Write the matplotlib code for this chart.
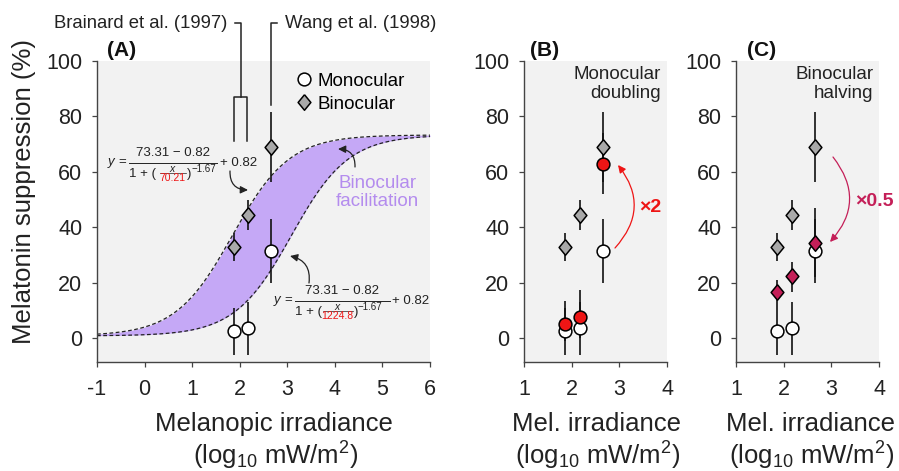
import numpy as np
import matplotlib
matplotlib.use('Agg')
import matplotlib.pyplot as plt
from matplotlib.lines import Line2D
from matplotlib.patches import FancyArrowPatch

plt.rcParams['font.family'] = ['Liberation Sans', 'DejaVu Sans']
plt.rcParams['mathtext.fontset'] = 'custom'
plt.rcParams['mathtext.rm'] = 'Liberation Sans'
plt.rcParams['mathtext.it'] = 'Liberation Sans:italic'
plt.rcParams['mathtext.bf'] = 'Liberation Sans:bold'
plt.rcParams['axes.unicode_minus'] = False

# data
dose = [1.87, 2.17, 2.66]                # log10 melanopic irradiance
mono = [2.5, 3.5, 31.5]
mono_lo = [-6, -6, 20]
mono_hi = [11, 13, 43]
bino = [33, 44.5, 69]
bino_lo = [28, 39, 56.5]
bino_hi = [38, 50, 81.5]
mono_x2 = [5, 7.5, 63]
mono_x2_lo = [-1, 0, 52]
mono_x2_hi = [13.5, 17.3, 74]
bino_half = [16.5, 22.3, 34.5]
bino_half_lo = [11, 16.7, 22]
bino_half_hi = [21, 27.6, 47]

# fitted sigmoids shown in panel A
fit_top = 73.31
fit_bot = 0.82
fit_slope = -1.67
ec50_bino = 70.21
ec50_mono = 1224.8

W, H = 899, 471
fig = plt.figure(figsize=(W / 100, H / 100), dpi=100)

def fpos(x, y):
    return x / W, 1 - y / H

bg = '#f2f2f2'
purple = '#c5a8f6'
purple_txt = '#b48cee'
gray = '#a9a9a9'
red = '#ee1515'
crimson = '#c41f58'
ink = '#222222'
diamond = [(0, 1), (0.82, 0), (0, -1), (-0.82, 0), (0, 1)]

ax_b = 1 - 361.7 / H
ax_h = 300.7 / H
axA = fig.add_axes([97 / W, ax_b, 333 / W, ax_h])
axB = fig.add_axes([524 / W, ax_b, 143 / W, ax_h])
axC = fig.add_axes([736 / W, ax_b, 143 / W, ax_h])

for ax in (axA, axB, axC):
    ax.set_facecolor(bg)
    ax.set_ylim(-8.5, 100)
    ax.set_yticks([0, 20, 40, 60, 80, 100])
    for s in ('top', 'right'):
        ax.spines[s].set_visible(False)
    for s in ('left', 'bottom'):
        ax.spines[s].set_color('#444444')
        ax.spines[s].set_linewidth(1)
    ax.tick_params(direction='out', length=3.5, width=0.9, color='#444444',
                   labelsize=15.5, labelcolor=ink, pad=7)
    ax.tick_params(axis='x', pad=9)

axA.set_xlim(-1, 6)
axA.set_xticks(range(-1, 7))
for ax in (axB, axC):
    ax.set_xlim(1, 4)
    ax.set_xticks([1, 2, 3, 4])

def mono_bino(ax):
    ax.vlines(dose, mono_lo, mono_hi, color='#111111', lw=1.2, zorder=2)
    ax.vlines(dose, bino_lo, bino_hi, color='#111111', lw=1.2, zorder=2)
    ax.plot(dose, mono, ls='none', marker='o', ms=9.2, mfc='white', mec='black',
            mew=1.1, zorder=3)
    ax.plot(dose, bino, ls='none', marker=diamond, ms=11.2, mfc=gray, mec='black',
            mew=1.1, zorder=3)

# panel A: the curves as drawn in the figure (slope applied per log unit)
lx = np.linspace(-1, 6, 500)
curve_b = (fit_top - fit_bot) / (1 + np.exp(fit_slope * (lx - np.log10(ec50_bino)))) + fit_bot
curve_m = (fit_top - fit_bot) / (1 + np.exp(fit_slope * (lx - np.log10(ec50_mono)))) + fit_bot
axA.fill_between(lx, curve_m, curve_b, color=purple, lw=0, zorder=1)
axA.plot(lx, curve_b, color=ink, lw=0.9, ls=(0, (3, 2)), zorder=1.5)
axA.plot(lx, curve_m, color=ink, lw=0.9, ls=(0, (3, 2)), zorder=1.5)
mono_bino(axA)

h1 = Line2D([], [], ls='none', marker='o', ms=9.2, mfc='white', mec='black', mew=1.1)
h2 = Line2D([], [], ls='none', marker=diamond, ms=11.2, mfc=gray, mec='black', mew=1.1)
axA.legend([h1, h2], ['Monocular', 'Binocular'], loc='upper left',
           bbox_to_anchor=(0.6, 0.962), frameon=False, fontsize=13.5,
           handlelength=0.8, handletextpad=0.3, labelspacing=0.32,
           borderpad=0, borderaxespad=0)

axA.text(4.9, 52.5, 'Binocular\nfacilitation', color=purple_txt, fontsize=13.5,
         ha='center', va='center', linespacing=1.1)

# study brackets above panel A
lk = dict(color=ink, lw=1.1, clip_on=False, zorder=5)
axA.plot([1.87, 1.87, 2.15, 2.15], [71, 87, 87, 71], **lk)
axA.plot([1.905, 2.02, 2.02], [113.6, 113.6, 87], **lk)
axA.plot([2.78, 2.66, 2.66], [113.6, 113.6, 84], **lk)
axA.text(1.75, 113.4, 'Brainard et al. (1997)', ha='right', va='center',
         fontsize=13.3, color=ink, clip_on=False)
axA.text(2.96, 113.4, 'Wang et al. (1998)', ha='left', va='center',
         fontsize=13.3, color=ink, clip_on=False)

# equations, placed in figure pixels
def equation(x0, yc, ec_text, line_end, num_x, small_x, small_w, rp_x, sup_x, plus_x):
    fs = 9.5
    fig.text(*fpos(x0, yc), '$y$ =', fontsize=fs, ha='left', va='center', color=ink)
    fig.add_artist(Line2D([(x0 + 22) / W, line_end / W], [1 - yc / H] * 2,
                          color=ink, lw=0.7))
    fig.text(*fpos(num_x, yc - 9.5), '73.31 \u2212 0.82', fontsize=fs,
             ha='center', va='center', color=ink)
    fig.text(*fpos(x0 + 22, yc + 11.5), '1 + (', fontsize=fs, ha='left',
             va='center', color=ink)
    fig.text(*fpos(small_x, yc + 5.5), '$x$', fontsize=7.5, ha='center',
             va='center', color=ink)
    fig.add_artist(Line2D([(small_x - small_w / 2) / W, (small_x + small_w / 2) / W],
                          [1 - (yc + 10) / H] * 2, color=ink, lw=0.5))
    fig.text(*fpos(small_x, yc + 15), ec_text, fontsize=7.5, ha='center',
             va='center', color=red)
    fig.text(*fpos(rp_x, yc + 11.5), ')', fontsize=fs, ha='left',
             va='center', color=ink)
    fig.text(*fpos(sup_x, yc + 6), '\u22121.67', fontsize=7, ha='left',
             va='center', color=ink)
    fig.text(*fpos(plus_x, yc), '+ 0.82', fontsize=fs, ha='left',
             va='center', color=ink)

equation(107, 163, '70.21', 217, 173, 173, 26, 187, 192, 220)
equation(273, 301, '1224.8', 390, 342, 337.5, 30, 354, 358, 392)

head = '-|>,head_length=0.45,head_width=0.22'
ak = dict(arrowstyle=head, mutation_scale=10, color=ink, lw=0.9,
          shrinkA=0, shrinkB=0, transform=fig.transFigure)
fig.add_artist(FancyArrowPatch(fpos(230, 171), fpos(248, 190),
                               connectionstyle='arc3,rad=0.5', **ak))
fig.add_artist(FancyArrowPatch(fpos(355, 167), fpos(338, 149),
                               connectionstyle='arc3,rad=0.5', **ak))
fig.add_artist(FancyArrowPatch(fpos(309, 283), fpos(290, 256),
                               connectionstyle='arc3,rad=0.45', **ak))

# panel B
mono_bino(axB)
axB.vlines(dose, mono_x2_lo, mono_x2_hi, color='#111111', lw=1.2, zorder=2)
axB.plot(dose, mono_x2, ls='none', marker='o', ms=9.2, mfc=red, mec='black',
         mew=1.1, zorder=4)
axB.text(0.96, 0.922, 'Monocular\ndoubling', transform=axB.transAxes, ha='right',
         va='center', fontsize=13.5, color=ink, linespacing=1.15)
fig.add_artist(FancyArrowPatch(
    fpos(615, 248), fpos(618, 165), transform=fig.transFigure,
    connectionstyle='arc3,rad=0.42', arrowstyle=head, mutation_scale=10,
    color=red, lw=0.9, shrinkA=0, shrinkB=0))
fig.text(*fpos(650, 208), '\u00d72', color=red, fontsize=14, fontweight='bold',
         ha='center', va='center')

# panel C
mono_bino(axC)
axC.vlines(dose, bino_half_lo, bino_half_hi, color='#111111', lw=1.2, zorder=2)
axC.plot(dose, bino_half, ls='none', marker=diamond, ms=11.2, mfc=crimson, mec='black',
         mew=1.1, zorder=4)
axC.text(0.96, 0.922, 'Binocular\nhalving', transform=axC.transAxes, ha='right',
         va='center', fontsize=13.5, color=ink, linespacing=1.15)
fig.add_artist(FancyArrowPatch(
    fpos(833, 157), fpos(830, 242), transform=fig.transFigure,
    connectionstyle='arc3,rad=-0.42', arrowstyle=head, mutation_scale=10,
    color=crimson, lw=0.9, shrinkA=0, shrinkB=0))
fig.text(*fpos(874, 202), '\u00d70.5', color=crimson, fontsize=14, fontweight='bold',
         ha='center', va='center')

# panel letters and axis labels
for lbl, xp in (('(A)', 107), ('(B)', 530), ('(C)', 747)):
    fig.text(*fpos(xp, 50), lbl, fontsize=15, fontweight='bold', ha='left',
             va='center', color='#111111')

fig.text(*fpos(24, 191), 'Melatonin suppression (%)', rotation=90, fontsize=18.5,
         ha='center', va='center', color=ink)
for cx, l1 in ((274, 'Melanopic irradiance'), (596, 'Mel. irradiance'),
               (810, 'Mel. irradiance')):
    fig.text(*fpos(cx, 424), l1, fontsize=18.5, ha='center', va='center', color=ink)
    fig.text(*fpos(cx + 2, 456), '(log$_{10}$ mW/m$^{2}$)', fontsize=18.5,
             ha='center', va='center', color=ink)

fig.savefig('out.png', dpi=100)
